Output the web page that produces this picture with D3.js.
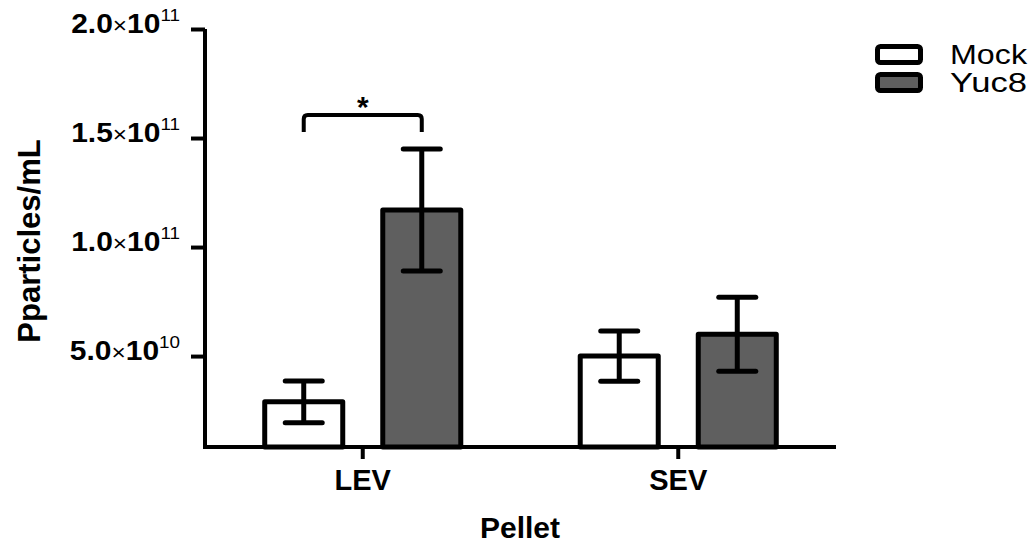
<!DOCTYPE html>
<html><head><meta charset="utf-8">
<script src="https://cdn.jsdelivr.net/npm/d3@7"></script>
<style>
html,body{margin:0;padding:0;background:#fff;}
svg{display:block;font-family:"Liberation Sans",Arial,sans-serif;}
</style></head>
<body>
<svg id="chart" width="1036" height="543"></svg>
<script>
// ---- data ----
const categories = ["LEV", "SEV"];
const seriesNames = ["Mock", "Yuc8"];
const mockMeans = [2.9e10, 5.0e10];
const mockErrors = [0.96e10, 1.15e10];
const yuc8Means = [1.17e11, 6.0e10];
const yuc8Errors = [0.28e11, 1.7e10];
const yTickValues = [5e10, 1e11, 1.5e11, 2e11];
const yTickMantissa = ["5.0", "1.0", "1.5", "2.0"];
const yTickExponent = ["10", "11", "11", "11"];
const seriesFills = ["#ffffff", "#5f5f5f"];
const yAxisBase = 8.3e9; // value where the x axis crosses
const yMax = 2e11;

const svg = d3.select("#chart");
const x0 = d3.scaleBand().domain(categories).range([205, 836]).padding(0);
const x1 = d3.scaleBand().domain(seriesNames).range([0, x0.bandwidth()])
  .paddingInner(0.339).paddingOuter(0.506);
const y = d3.scaleLinear().domain([yAxisBase, yMax]).range([447, 29]);

const data = [];
categories.forEach((c, i) => {
  data.push({cat: c, s: "Mock", v: mockMeans[i], e: mockErrors[i], fill: seriesFills[0]});
  data.push({cat: c, s: "Yuc8", v: yuc8Means[i], e: yuc8Errors[i], fill: seriesFills[1]});
});

// bars
svg.append("g").selectAll("rect").data(data).join("rect")
  .attr("x", d => x0(d.cat) + x1(d.s))
  .attr("y", d => y(d.v))
  .attr("width", x1.bandwidth())
  .attr("height", d => y(yAxisBase) - y(d.v))
  .attr("fill", d => d.fill)
  .attr("stroke", "#000").attr("stroke-width", 5).attr("stroke-linejoin", "round");

// error bars
const eb = svg.append("g").attr("stroke", "#000").attr("stroke-width", 5).attr("stroke-linecap", "round");
const capHalf = 18.5;
data.forEach(d => {
  const cx = x0(d.cat) + x1(d.s) + x1.bandwidth() / 2;
  eb.append("line").attr("x1", cx).attr("x2", cx).attr("y1", y(d.v + d.e)).attr("y2", y(d.v - d.e)).attr("stroke-linecap", "butt");
  eb.append("line").attr("x1", cx - capHalf).attr("x2", cx + capHalf).attr("y1", y(d.v + d.e)).attr("y2", y(d.v + d.e));
  eb.append("line").attr("x1", cx - capHalf).attr("x2", cx + capHalf).attr("y1", y(d.v - d.e)).attr("y2", y(d.v - d.e));
});

// y axis
const yAxis = svg.append("g").attr("transform", "translate(205,0)")
  .call(d3.axisLeft(y).tickValues(yTickValues).tickSize(14).tickSizeOuter(0).tickPadding(11).tickFormat(() => ""));
yAxis.select(".domain").attr("stroke-width", 4).attr("d", `M0,${y(yMax)}V${y(yAxisBase) + 2}`);
yAxis.selectAll(".tick line").attr("stroke-width", 4);
const sx = 1.11;
yAxis.selectAll(".tick text").each(function(d, i) {
  const t = d3.select(this).attr("dy", "0.38em").attr("fill", "#000")
    .attr("x", -25 / sx).attr("transform", `scale(${sx},1)`);
  t.append("tspan").attr("font-size", 27).attr("font-weight", "bold").text(yTickMantissa[i]);
  t.append("tspan").attr("font-size", 22).text("\u00d7");
  t.append("tspan").attr("font-size", 27).attr("font-weight", "bold").text("10");
  t.append("tspan").attr("font-size", 17).attr("dy", "-0.75em").text(yTickExponent[i]);
});

// x axis
const xAxis = svg.append("g").attr("transform", `translate(0,${y(yAxisBase)})`)
  .call(d3.axisBottom(x0).tickSize(12).tickSizeOuter(0).tickPadding(10));
xAxis.select(".domain").attr("stroke-width", 4).attr("d", "M203,0H836");
xAxis.selectAll(".tick line").attr("stroke-width", 4);
xAxis.selectAll(".tick text").attr("font-size", 29).attr("font-weight", "bold").attr("fill", "#000");

// axis titles
svg.append("text").attr("transform", "translate(40,241) rotate(-90)")
  .attr("text-anchor", "middle").attr("font-size", 31).attr("font-weight", "bold").text("Pparticles/mL");
svg.append("text").attr("x", 520).attr("y", 538)
  .attr("text-anchor", "middle").attr("font-size", 30).attr("font-weight", "bold").text("Pellet");

// significance bracket
const bx1 = x0("LEV") + x1("Mock") + x1.bandwidth() / 2;
const bx2 = x0("LEV") + x1("Yuc8") + x1.bandwidth() / 2;
svg.append("path")
  .attr("d", `M${bx1},132V119Q${bx1},115 ${bx1 + 4},115H${bx2 - 4}Q${bx2},115 ${bx2},119V132`)
  .attr("fill", "none").attr("stroke", "#000").attr("stroke-width", 4);
svg.append("text").attr("x", (bx1 + bx2) / 2).attr("y", 117)
  .attr("text-anchor", "middle").attr("font-size", 30).attr("font-weight", "bold").text("*");

// legend
const leg = svg.append("g");
seriesNames.forEach((s, i) => {
  const gy = 46.5 + i * 28;
  leg.append("rect").attr("x", 877.5).attr("y", gy).attr("width", 43).attr("height", 16).attr("rx", 3)
    .attr("fill", seriesFills[i]).attr("stroke", "#000").attr("stroke-width", 5);
  leg.append("text").attr("x", 950).attr("y", gy + 17.5).attr("font-size", 27).attr("fill", "#000")
    .attr("textLength", 77).attr("lengthAdjust", "spacingAndGlyphs").text(s);
});
</script>
</body></html>
